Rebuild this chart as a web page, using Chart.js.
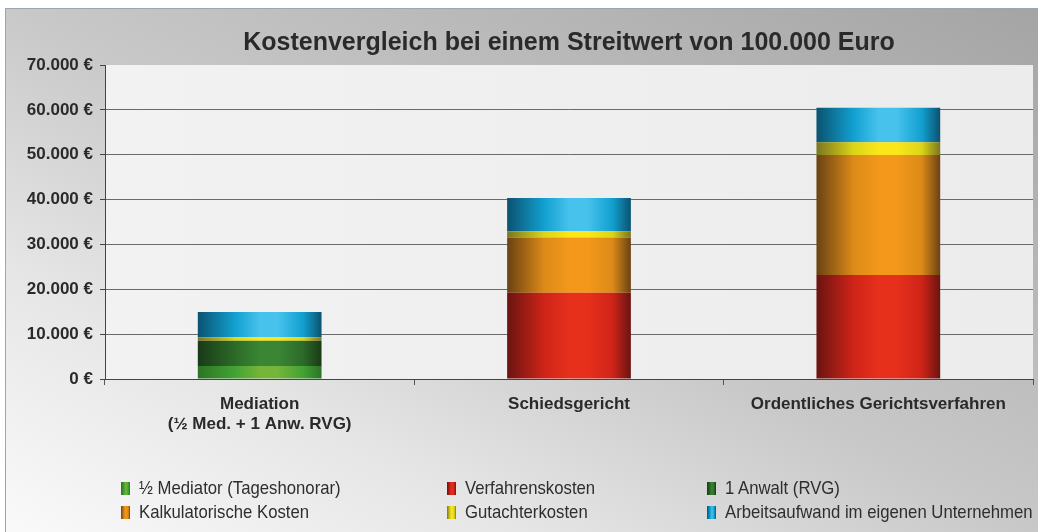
<!DOCTYPE html>
<html>
<head>
<meta charset="utf-8">
<script src="https://cdn.jsdelivr.net/npm/chart.js@4.4.1/dist/chart.umd.min.js"></script>
<style>
  html, body { margin: 0; padding: 0; background: #fff; }
  #wrap { position: relative; width: 1038px; height: 532px; }
  #legend { position: absolute; left: 0; top: 0; width: 1038px; height: 532px; pointer-events: none;
            font-family: "Liberation Sans Narrow", "Liberation Sans", Arial, sans-serif; font-size: 19px; color: #2e2e2e; }
  .item { position: absolute; white-space: nowrap; line-height: 20px; }
  .box { display: inline-block; width: 9px; height: 13px; margin-right: 9px; vertical-align: -1px; }
  .txt { display: inline-block; transform: scaleX(0.88); transform-origin: left center; }
</style>
</head>
<body>
<div id="wrap">
  <canvas id="chart" width="1038" height="532"></canvas>
  <div id="legend"></div>
</div>
<script>
// data
const categories = [["Mediation", "(½ Med. + 1 Anw. RVG)"], "Schiedsgericht", "Ordentliches Gerichtsverfahren"];
const seriesNames = ["½ Mediator (Tageshonorar)", "Verfahrenskosten", "1 Anwalt (RVG)",
                     "Kalkulatorische Kosten", "Gutachterkosten", "Arbeitsaufwand im eigenen Unternehmen"];
const mediatorHalf = [2900, 0, 0];
const verfahrenskosten = [0, 19200, 23200];
const anwalt = [5650, 0, 0];
const kalkulatorisch = [0, 12350, 26750];
const gutachter = [750, 1400, 2850];
const arbeitsaufwand = [5650, 7400, 7650];
const yTicks = [0, 10000, 20000, 30000, 40000, 50000, 60000, 70000];

// cylinder shading: edge / mid / light
const palette = [
  { edge: "#2b7424", mid: "#43a235", light: "#74b53a" },
  { edge: "#6a1411", mid: "#cf2418", light: "#e6301c" },
  { edge: "#1a3a17", mid: "#2c6a28", light: "#3a8634" },
  { edge: "#6a4213", mid: "#dc8a18", light: "#f3981a" },
  { edge: "#7a7620", mid: "#dcd418", light: "#fbe61a" },
  { edge: "#0b5270", mid: "#12a0d0", light: "#46c2ec" }
];

function cylinder(ctx, c) {
  const chart = ctx.chart;
  const xs = chart.scales.x;
  if (!xs || !chart.chartArea || ctx.dataIndex === undefined) return c.mid;
  const cx = xs.getPixelForValue(ctx.dataIndex);
  const w = (chart.chartArea.right - chart.chartArea.left) / categories.length * 0.4;
  const g = chart.ctx.createLinearGradient(cx - w / 2, 0, cx + w / 2, 0);
  g.addColorStop(0, c.edge);
  g.addColorStop(0.3, c.mid);
  g.addColorStop(0.5, c.light);
  g.addColorStop(0.65, c.light);
  g.addColorStop(0.85, c.mid);
  g.addColorStop(1, c.edge);
  return g;
}

function euro(v) {
  return String(v).replace(/\B(?=(\d{3})+(?!\d))/g, ".") + " €";
}

const values = [mediatorHalf, verfahrenskosten, anwalt, kalkulatorisch, gutachter, arbeitsaufwand];
const datasets = values.map((data, i) => ({
  label: seriesNames[i],
  data: data,
  backgroundColor: ctx => cylinder(ctx, palette[i]),
  borderWidth: 0,
  categoryPercentage: 1,
  barPercentage: 0.4
}));

// background + plot area
const backdrop = {
  id: "backdrop",
  beforeDraw(chart) {
    const { ctx, chartArea: a } = chart;
    ctx.save();
    ctx.fillStyle = "#fff";
    ctx.fillRect(0, 0, chart.width, chart.height);
    // light at bottom left, dark at top right
    const g = ctx.createLinearGradient(0, chart.height, 432, -310);
    g.addColorStop(0, "#fafafa");
    g.addColorStop(0.25, "#e6e6e6");
    g.addColorStop(0.5, "#c8c8c8");
    g.addColorStop(1, "#a4a4a4");
    ctx.fillStyle = g;
    ctx.fillRect(5, 8, chart.width - 5, chart.height - 8);
    ctx.strokeStyle = "#9aa6b2";
    ctx.lineWidth = 1;
    ctx.beginPath();
    ctx.moveTo(5.5, chart.height);
    ctx.lineTo(5.5, 8.5);
    ctx.lineTo(chart.width, 8.5);
    ctx.stroke();
    const pg = ctx.createLinearGradient(a.left, 0, a.right, 0);
    pg.addColorStop(0, "#f2f2f2");
    pg.addColorStop(1, "#ececec");
    ctx.fillStyle = pg;
    ctx.fillRect(a.left, a.top, a.right - a.left, a.bottom - a.top);
    ctx.restore();
  }
};

new Chart(document.getElementById("chart"), {
  type: "bar",
  data: { labels: categories, datasets: datasets },
  plugins: [backdrop],
  options: {
    responsive: false,
    animation: false,
    layout: { padding: { left: 0, right: 5, top: 0, bottom: 0 } },
    plugins: {
      legend: { display: false },
      tooltip: { enabled: false },
      title: {
        display: true,
        text: "Kostenvergleich bei einem Streitwert von 100.000 Euro",
        fullSize: false,
        color: "#2a2a2a",
        font: { family: "Liberation Sans, Arial, sans-serif", size: 25, weight: "bold" },
        padding: { top: 28, bottom: 7 }
      }
    },
    scales: {
      x: {
        stacked: true,
        grid: { offset: true, drawOnChartArea: false, tickLength: 6, color: "#555" },
        border: { color: "#444" },
        ticks: {
          color: "#2a2a2a",
          padding: 10,
          font: { family: "Liberation Sans, Arial, sans-serif", size: 17, weight: "bold", lineHeight: 1.15 }
        },
        afterFit: s => { s.height = 153; }
      },
      y: {
        stacked: true,
        min: 0,
        max: 70000,
        afterBuildTicks: s => { s.ticks = yTicks.map(v => ({ value: v })); },
        grid: {
          color: ctx => (ctx.tick && ctx.tick.value === 70000 ? "rgba(0,0,0,0)" : "#6a6a6a"),
          tickColor: "#444",
          tickLength: 5
        },
        border: { color: "#444" },
        ticks: {
          color: "#2a2a2a",
          padding: 7,
          font: { family: "Liberation Sans, Arial, sans-serif", size: 17, weight: "bold" },
          callback: v => euro(v)
        },
        afterFit: s => { s.width = 105; }
      }
    }
  }
});

// legend in three columns, two rows
const legendCols = [121, 447, 707];
const legendRows = [478, 502];
const legend = document.getElementById("legend");
seriesNames.forEach((name, i) => {
  const c = palette[i];
  const item = document.createElement("div");
  item.className = "item";
  item.style.left = legendCols[i % 3] + "px";
  item.style.top = legendRows[Math.floor(i / 3)] + "px";
  const box = document.createElement("span");
  box.className = "box";
  box.style.background = `linear-gradient(to right, ${c.edge}, ${c.mid} 35%, ${c.light} 55%, ${c.mid} 80%, ${c.edge})`;
  const txt = document.createElement("span");
  txt.className = "txt";
  txt.textContent = name;
  item.appendChild(box);
  item.appendChild(txt);
  legend.appendChild(item);
});
</script>
</body>
</html>
